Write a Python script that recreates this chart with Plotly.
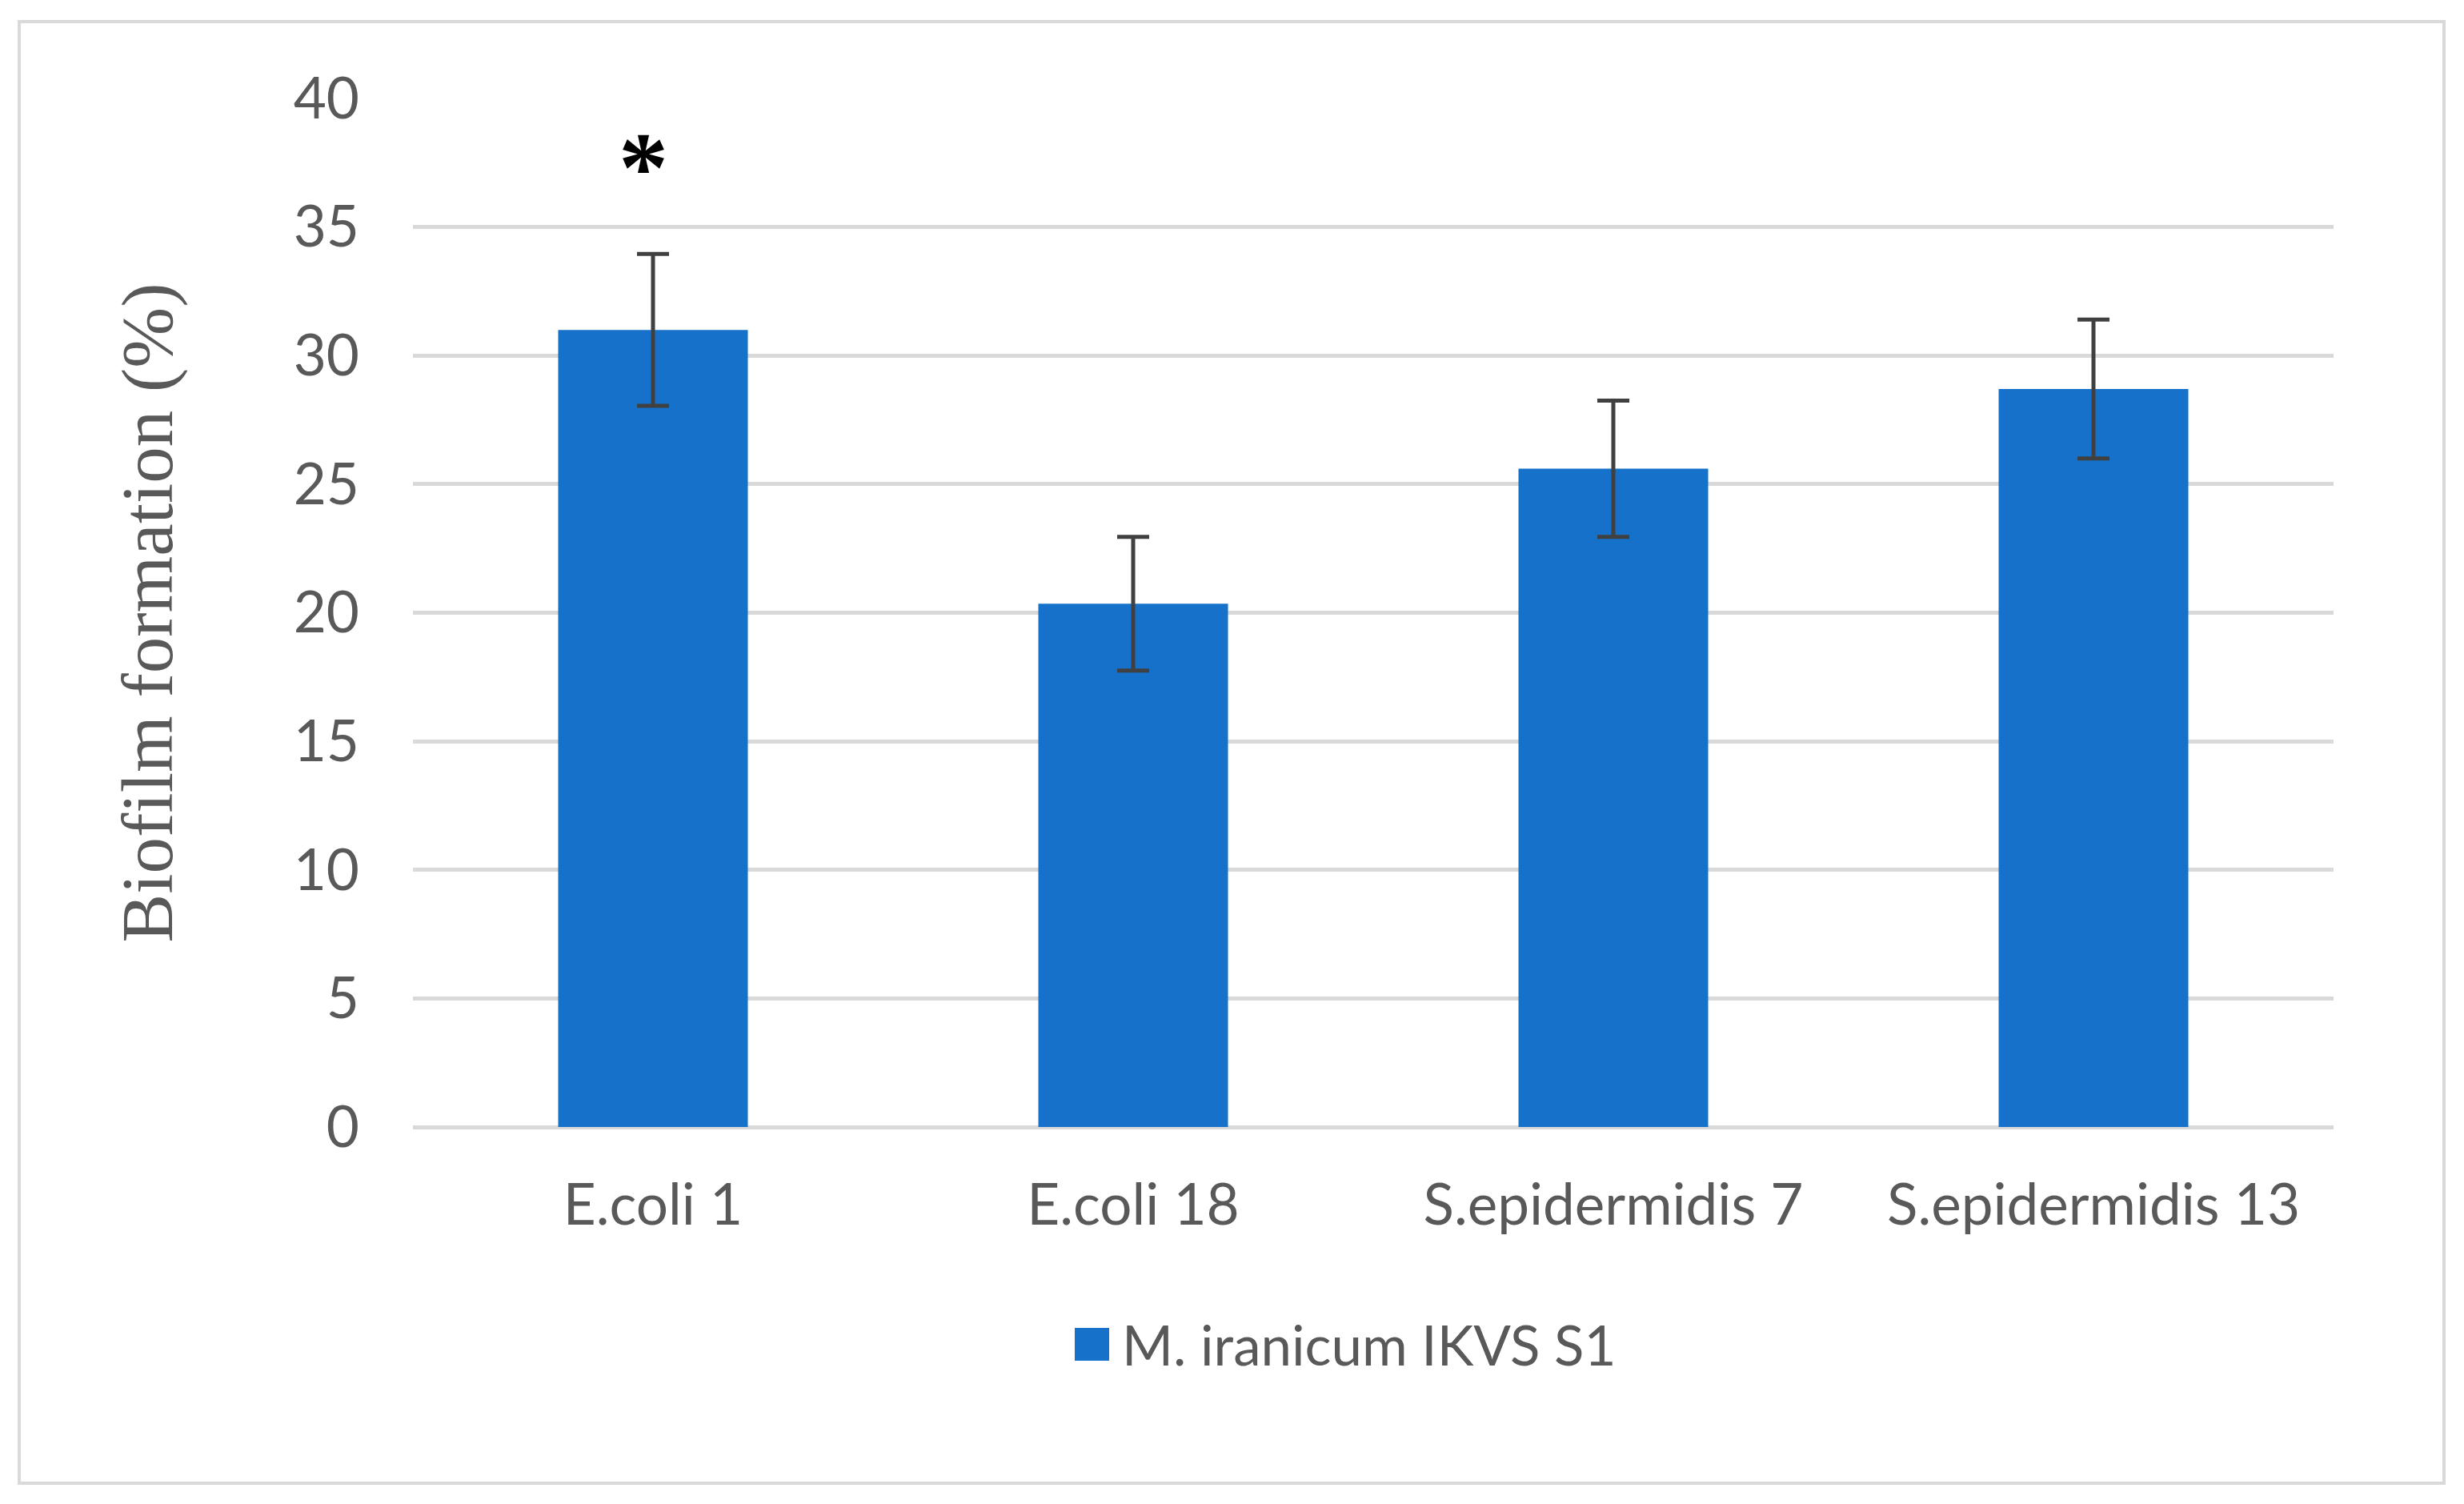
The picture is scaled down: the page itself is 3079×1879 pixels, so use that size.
import plotly.graph_objects as go

# ---- data ----
categories = ["E.coli 1", "E.coli 18", "S.epidermidis 7", "S.epidermidis 13"]
biofilm = [31.0, 20.35, 25.6, 28.7]
errors = [2.95, 2.6, 2.65, 2.7]
significance = ["*", "", "", ""]
series_name = "M. iranicum IKVS S1"
y_tick_values = [0, 5, 10, 15, 20, 25, 30, 35, 40]
y_title = "Biofilm formation (%)"

# ---- style (page pixel geometry; the page body adds an 8px offset) ----
OFF = 8
PAGE_W, PAGE_H = 3079, 1879
W, H = PAGE_W - 2 * OFF, PAGE_H - 2 * OFF
PLOT_L, PLOT_R, PLOT_T, PLOT_B = 516, 2916, 123, 1408  # page coords
L, T = PLOT_L - OFF, PLOT_T - OFF
R, B = W - (PLOT_R - OFF), H - (PLOT_B - OFF)
PW, PH = W - L - R, H - T - B
BLUE = "#1571C9"
GRID = "#D9D9D9"
TXT = "#595959"
SANS = "Lato"
SERIF = "Liberation Serif"


def px_x(p):  # page px -> paper x
    return (p - OFF - L) / PW


def px_y(p):  # page px -> paper y
    return (H - B - (p - OFF)) / PH


fig = go.Figure()
fig.add_trace(go.Bar(
    x=categories, y=biofilm, name=series_name,
    marker=dict(color=BLUE, line=dict(width=0)),
    error_y=dict(type="data", array=errors, visible=True,
                 color="#404040", thickness=5, width=20),
    showlegend=True,
))

for cat, val, err, s in zip(categories, biofilm, errors, significance):
    if s:
        fig.add_annotation(
            x=cat, y=val + err, text=s, showarrow=False,
            xanchor="center", yanchor="bottom", yshift=37, xshift=-12,
            font=dict(family=SERIF, size=124, color="black", weight="bold"),
        )

shapes = [
    # outer frame
    dict(type="rect", xref="paper", yref="paper",
         x0=px_x(24), x1=px_x(3054), y0=px_y(1853), y1=px_y(27),
         line=dict(color=GRID, width=4), fillcolor="rgba(0,0,0,0)", layer="below"),
    # enlarged legend swatch
    dict(type="rect", xref="paper", yref="paper",
         x0=px_x(1343), x1=px_x(1386), y0=px_y(1700), y1=px_y(1659),
         line=dict(width=0), fillcolor=BLUE, layer="above"),
]

fig.update_layout(
    width=W, height=H,
    margin=dict(l=L, r=R, t=T, b=B, autoexpand=False),
    paper_bgcolor="white", plot_bgcolor="white",
    bargap=0.605,
    shapes=shapes,
    showlegend=True,
    legend=dict(
        orientation="h", x=px_x(1346), y=px_y(1679), xanchor="left", yanchor="middle",
        itemwidth=46,
        font=dict(family=SANS, size=69, color=TXT), bgcolor="rgba(0,0,0,0)",
    ),
    xaxis=dict(
        showgrid=False, showline=False, zeroline=False, ticks="",
        tickfont=dict(family=SANS, size=71, color=TXT),
        ticklabelstandoff=50, automargin=False,
    ),
    yaxis=dict(
        range=[0, 40], tickvals=y_tick_values,
        showgrid=True, gridcolor=GRID, gridwidth=5,
        zeroline=True, zerolinecolor=GRID, zerolinewidth=5,
        showline=False, ticks="",
        tickfont=dict(family=SANS, size=71, color=TXT),
        ticklabelstandoff=66, automargin=False,
        title=dict(text=y_title, standoff=120,
                   font=dict(family=SERIF, size=91, color=TXT)),
    ),
)

fig.write_html("out.html")
